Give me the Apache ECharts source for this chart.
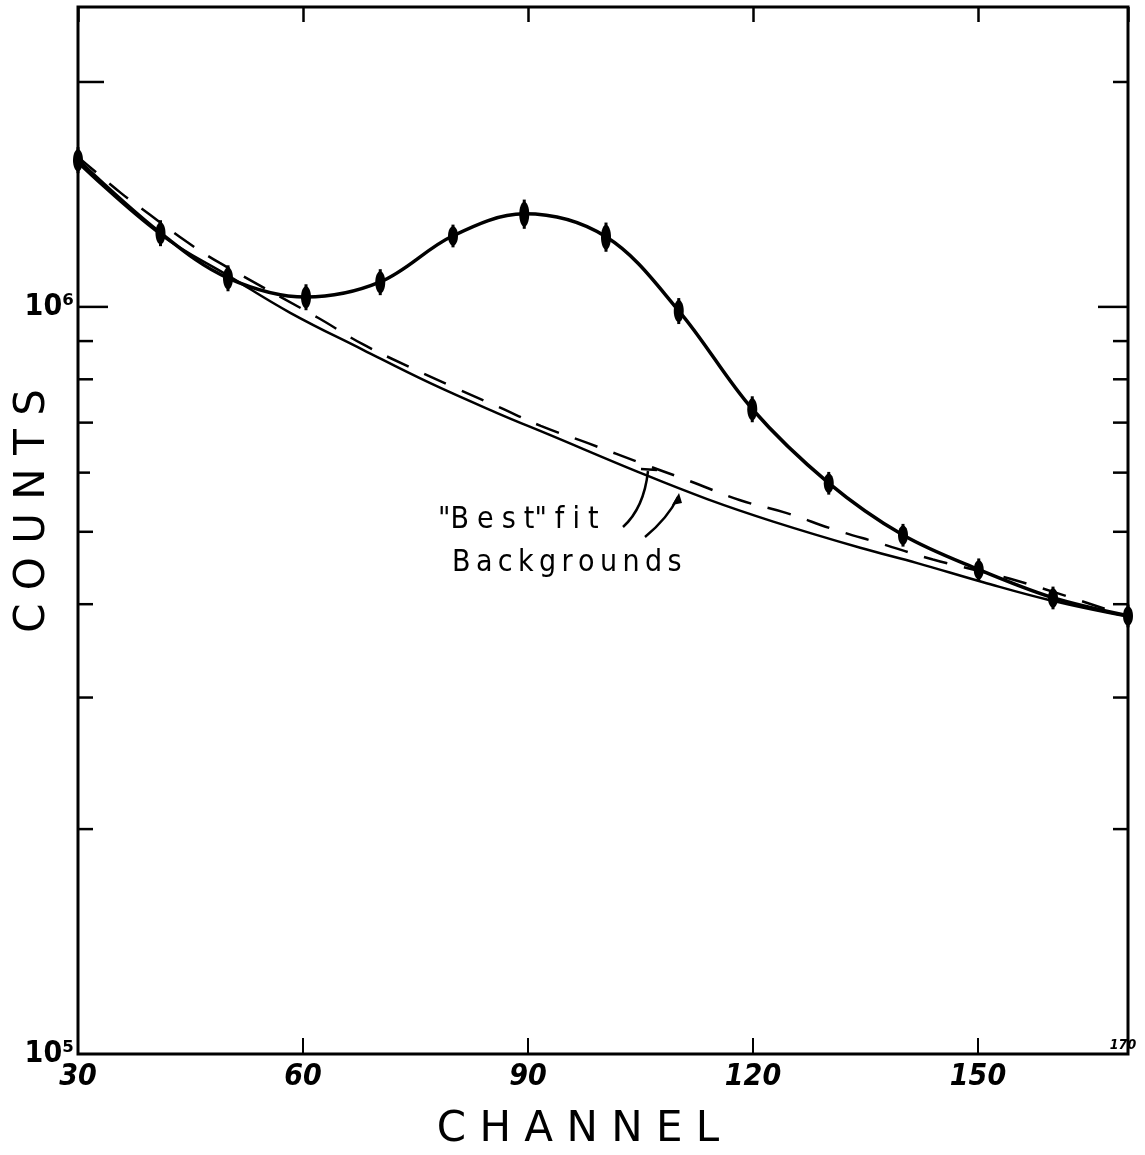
<!DOCTYPE html>
<html>
<head>
<meta charset="utf-8">
<title>Counts vs Channel</title>
<script src="https://cdn.jsdelivr.net/npm/echarts@6/dist/echarts.min.js"></script>
<style>
    html, body {margin: 0; padding: 0; background: #fff;}
    #chart {width: 1145px; height: 1155px;}
</style>
</head>
<body>
<div id="chart"></div>
<script>
// measured spectrum (channel, counts) with relative error
var dataChannel = [30, 41, 50, 60.4, 70.3, 80, 89.5, 100.4, 110.1, 119.9, 130.1, 140, 150.1, 160, 170];
var dataCounts = [1.573e6, 1.256e6, 1.093e6, 1.031e6, 1.080e6, 1.245e6, 1.332e6, 1.241e6, 0.988e6, 0.730e6, 0.581e6, 0.495e6, 0.445e6, 0.408e6, 0.386e6];
var dataErr = [0.04, 0.04, 0.04, 0.04, 0.04, 0.035, 0.045, 0.045, 0.04, 0.04, 0.035, 0.035, 0.035, 0.035, 0.035];

// "best" fit background, solid
var bgSolidChannel = [30, 40.9, 50.3, 58.3, 68, 76.9, 85.9, 92.9, 104.9, 113.9, 122.7, 134.3, 141.9, 150.7, 159.6, 170];
var bgSolidCounts = [1.559e6, 1.252e6, 1.097e6, 0.982e6, 0.876e6, 0.791e6, 0.721e6, 0.674e6, 0.600e6, 0.553e6, 0.516e6, 0.476e6, 0.454e6, 0.428e6, 0.405e6, 0.385e6];

// "best" fit background, dashed
var bgDashChannel = [30, 35.7, 39.6, 44.5, 48.9, 62, 67.9, 74.4, 80.3, 86.3, 91.7, 98, 105.6, 111.5, 118.3, 124.4, 130.7, 137.1, 144, 155.2, 170];
var bgDashCounts = [1.588e6, 1.421e6, 1.328e6, 1.222e6, 1.145e6, 0.967e6, 0.892e6, 0.829e6, 0.779e6, 0.733e6, 0.693e6, 0.657e6, 0.615e6, 0.585e6, 0.551e6, 0.530e6, 0.504e6, 0.482e6, 0.459e6, 0.430e6, 0.385e6];

// axis ticks: [value, left length, right length]
var xTickInterval = 30;
var yTicks = [
    [2e6, 26, 15],
    [1e6, 30, 30],
    [0.9e6, 15, 15],
    [0.8e6, 15, 15],
    [0.7e6, 15, 15],
    [0.6e6, 12, 15],
    [0.5e6, 15, 15],
    [0.4e6, 15, 15],
    [0.3e6, 15, 15],
    [0.2e6, 15, 15]
];

var labelFont = '"DejaVu Sans Condensed", "DejaVu Sans", sans-serif';
var textFont = '"DejaVu Sans", sans-serif';

function zip(a, b) {
    var out = [];
    for (var i = 0; i < a.length; i++) {
        out.push([a[i], b[i]]);
    }
    return out;
}

var errData = [];
for (var i = 0; i < dataChannel.length; i++) {
    errData.push([dataChannel[i], dataCounts[i] * (1 - dataErr[i]), dataCounts[i] * (1 + dataErr[i])]);
}

var myChart = echarts.init(document.getElementById('chart'));

myChart.setOption({
    backgroundColor: '#fff',
    animation: false,
    grid: {
        left: 78,
        right: 17,
        top: 7,
        bottom: 101,
        show: true,
        borderColor: '#000',
        borderWidth: 3,
        backgroundColor: 'transparent'
    },
    xAxis: [
        {
            type: 'value',
            min: 30,
            max: 170,
            interval: xTickInterval,
            axisLine: {show: false},
            splitLine: {show: false},
            axisTick: {show: true, inside: true, length: 16, lineStyle: {color: '#000', width: 2}},
            axisLabel: {
                margin: 8,
                color: '#000',
                fontFamily: labelFont,
                fontStyle: 'italic',
                fontWeight: 'bold',
                fontSize: 30,
                showMaxLabel: false,
                formatter: function (v) {
                    return v >= 170 ? '' : String(v);
                }
            }
        },
        {
            type: 'value',
            position: 'top',
            min: 30,
            max: 170,
            interval: xTickInterval,
            axisLine: {show: false},
            splitLine: {show: false},
            axisTick: {show: true, inside: true, length: 15, lineStyle: {color: '#000', width: 2.5}},
            axisLabel: {show: false}
        }
    ],
    yAxis: {
        type: 'log',
        logBase: 10,
        min: 1e5,
        max: 2.52e6,
        axisLine: {show: false},
        splitLine: {show: false},
        axisTick: {show: false},
        axisLabel: {
            margin: 4,
            color: '#000',
            fontFamily: labelFont,
            fontWeight: 'bold',
            fontSize: 30,
            showMaxLabel: false,
            formatter: function (v) {
                var p = Math.log10(v);
                if (Math.abs(p - Math.round(p)) > 1e-6) return '';
                return Math.round(p) === 5 ? '10\u2075' : Math.round(p) === 6 ? '10\u2076' : '';
            }
        }
    },
    series: [
        {
            name: 'ticks',
            type: 'custom',
            silent: true,
            data: yTicks,
            encode: {y: 0},
            renderItem: function (params, api) {
                var v = api.value(0);
                var l = api.coord([30, v]);
                var r = api.coord([170, v]);
                var st = {stroke: '#000', lineWidth: 2.5};
                return {
                    type: 'group',
                    children: [
                        {type: 'line', shape: {x1: l[0], y1: l[1], x2: l[0] + api.value(1), y2: l[1]}, style: st},
                        {type: 'line', shape: {x1: r[0] - api.value(2), y1: r[1], x2: r[0], y2: r[1]}, style: st}
                    ]
                };
            }
        },
        {
            name: 'background solid',
            type: 'line',
            data: zip(bgSolidChannel, bgSolidCounts),
            smooth: 0.4,
            symbol: 'none',
            lineStyle: {color: '#000', width: 2.5}
        },
        {
            name: 'background dashed',
            type: 'line',
            data: zip(bgDashChannel, bgDashCounts),
            smooth: 0.4,
            symbol: 'none',
            lineStyle: {color: '#000', width: 2.5, type: [24, 17]}
        },
        {
            name: 'data',
            type: 'line',
            data: zip(dataChannel, dataCounts),
            smooth: 0.35,
            symbol: 'none',
            z: 4,
            lineStyle: {color: '#000', width: 3.5}
        },
        {
            name: 'errors',
            type: 'custom',
            z: 5,
            data: errData,
            encode: {x: 0, y: [1, 2]},
            renderItem: function (params, api) {
                var top = api.coord([api.value(0), api.value(2)]);
                var bot = api.coord([api.value(0), api.value(1)]);
                var cy = (top[1] + bot[1]) / 2;
                var ry = (bot[1] - top[1]) / 2;
                return {
                    type: 'group',
                    children: [
                        {type: 'ellipse', shape: {cx: top[0], cy: cy, rx: 5, ry: ry * 0.85}, style: {fill: '#000'}},
                        {type: 'line', shape: {x1: top[0], y1: top[1], x2: bot[0], y2: bot[1]}, style: {stroke: '#000', lineWidth: 3}}
                    ]
                };
            }
        }
    ],
    graphic: [
        {
            type: 'text',
            x: 33, y: 511,
            rotation: Math.PI / 2,
            style: {text: 'C O U N T S', fill: '#000', font: '42px ' + textFont, align: 'center', verticalAlign: 'middle'}
        },
        {
            type: 'text',
            x: 578, y: 1130,
            style: {text: 'C H A N N E L', fill: '#000', font: '42px ' + textFont, align: 'center', verticalAlign: 'middle'}
        },
        {
            type: 'text',
            x: 1123, y: 1045,
            style: {text: '170', fill: '#000', font: 'italic bold 14px ' + labelFont, align: 'center', verticalAlign: 'middle'}
        },
        {
            type: 'text',
            x: 438, y: 520,
            style: {text: '"B\u2009\u200Ae\u2009\u200As\u2009\u200At"\u2009\u200Af\u2009\u200Ai\u2009\u200At', fill: '#000', font: '30px ' + labelFont, align: 'left', verticalAlign: 'middle'}
        },
        {
            type: 'text',
            x: 452, y: 563,
            style: {text: 'B\u2009a\u2009c\u2009k\u2009g\u2009r\u2009o\u2009u\u2009n\u2009d\u2009s', fill: '#000', font: '30px ' + labelFont, align: 'left', verticalAlign: 'middle'}
        },
        // arrows from the label to the two curves
        {
            type: 'bezierCurve',
            shape: {x1: 623, y1: 527, cpx1: 644, cpy1: 508, x2: 648, y2: 471},
            style: {stroke: '#000', lineWidth: 2.5, fill: null}
        },
        {
            type: 'line',
            shape: {x1: 641, y1: 469, x2: 657, y2: 470},
            style: {stroke: '#000', lineWidth: 2.5}
        },
        {
            type: 'bezierCurve',
            shape: {x1: 645, y1: 537, cpx1: 668, cpy1: 518, x2: 678, y2: 497},
            style: {stroke: '#000', lineWidth: 2.5, fill: null}
        },
        {
            type: 'polygon',
            shape: {points: [[679, 493], [672, 505], [682, 503]]},
            style: {fill: '#000'}
        }
    ]
});
</script>
</body>
</html>
